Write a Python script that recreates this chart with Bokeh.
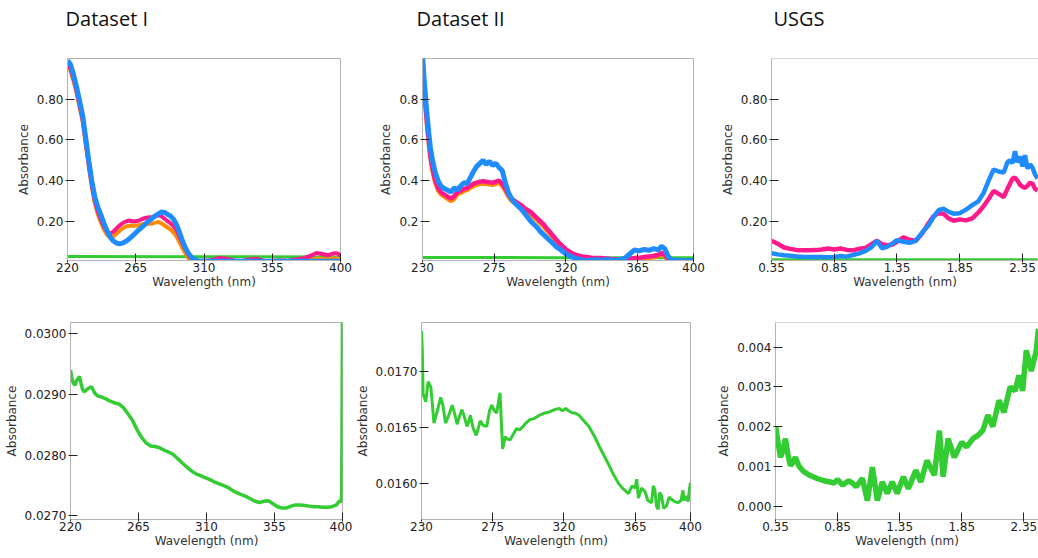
from bokeh.plotting import figure
from bokeh.layouts import column, row
from bokeh.models import Range1d, FixedTicker, Span
from bokeh.embed import file_html
from bokeh.resources import INLINE

# ---------------- data ----------------
titles = ["Dataset I", "Dataset II", "USGS"]
x_label = "Wavelength (nm)"
y_label = "Absorbance"

# Dataset I (top)
d1_wl = [220, 222, 224, 226, 228, 230, 232, 234, 236, 238,
         240, 242, 244, 246, 248, 250, 252, 254, 256, 258,
         260, 262, 264, 266, 268, 270, 272, 274, 276, 278,
         280, 282, 284, 286, 288, 290, 292, 294, 296, 298,
         300, 302, 304, 306,
         310, 315, 320, 325, 330, 335, 340, 345, 350, 355, 360, 365, 370, 375, 380,
         384, 388, 392, 396, 398, 400]
d1_blue = [0.99, 0.97, 0.92, 0.86, 0.79, 0.72, 0.61, 0.50, 0.40, 0.32,
           0.27, 0.232, 0.19, 0.155, 0.125, 0.105, 0.095, 0.09, 0.092, 0.10,
           0.11, 0.123, 0.137, 0.152, 0.165, 0.178, 0.192, 0.205, 0.217, 0.228,
           0.238, 0.246, 0.244, 0.235, 0.226, 0.21, 0.182, 0.142, 0.10, 0.066,
           0.04, 0.022, 0.012, 0.007,
           0.005, 0.004, 0.004, 0.004, 0.004, 0.004, 0.004, 0.004, 0.004, 0.004, 0.004, 0.004, 0.004, 0.004, 0.004,
           0.004, 0.004, 0.004, 0.004, 0.004, 0.004]
d1_pink = [0.97, 0.95, 0.90, 0.84, 0.77, 0.70, 0.59, 0.48, 0.38, 0.30,
           0.25, 0.21, 0.175, 0.15, 0.14, 0.148, 0.163, 0.178, 0.19, 0.198,
           0.204, 0.202, 0.20, 0.202, 0.208, 0.214, 0.218, 0.22, 0.221, 0.226,
           0.23, 0.225, 0.213, 0.201, 0.19, 0.176, 0.155, 0.122, 0.09, 0.06,
           0.032, 0.014, 0.007, 0.005,
           0.005, 0.01, 0.02, 0.017, 0.008, 0.006, 0.014, 0.016, 0.006, 0.005, 0.009, 0.007, 0.013, 0.018, 0.03,
           0.045, 0.04, 0.034, 0.044, 0.043, 0.032]
d1_orange = [0.96, 0.94, 0.89, 0.83, 0.76, 0.69, 0.58, 0.47, 0.37, 0.29,
             0.235, 0.195, 0.16, 0.135, 0.122, 0.125, 0.138, 0.152, 0.164, 0.173,
             0.178, 0.18, 0.178, 0.18, 0.184, 0.187, 0.188, 0.189, 0.19, 0.194,
             0.197, 0.19, 0.18, 0.17, 0.16, 0.145, 0.125, 0.095, 0.066, 0.04,
             0.016, 0.005, 0.003, 0.003,
             0.003, 0.004, 0.006, 0.005, 0.003, 0.003, 0.005, 0.006, 0.003, 0.003, 0.004, 0.004, 0.006, 0.008, 0.012,
             0.017, 0.016, 0.014, 0.018, 0.017, 0.014]
d1_green_wl = [220, 310, 400]
d1_green = [0.028, 0.027, 0.025]

# Dataset II (top)
d2_wl = [230, 231, 232, 233, 234, 235, 236,
         238, 240, 242, 244, 246, 248, 250, 252, 254, 256,
         258, 260, 262, 264, 266, 268, 270, 272, 274, 276,
         278, 280, 282, 284, 286, 288, 290, 292, 294, 296,
         298, 300, 302, 304, 306, 308, 310, 312, 314, 316,
         318, 320, 322, 324, 326, 328, 330,
         333, 336, 339, 342, 345, 348, 351, 354, 357, 360, 363, 366, 369, 372, 375, 378,
         380, 382, 384, 386, 388,
         391, 394, 397, 400]
d2_blue = [1.02, 0.90, 0.80, 0.71, 0.63, 0.56, 0.51,
           0.44, 0.395, 0.37, 0.36, 0.352, 0.345, 0.365, 0.355, 0.375, 0.39,
           0.385, 0.415, 0.445, 0.47, 0.485, 0.50, 0.48, 0.495, 0.475, 0.485,
           0.465, 0.45, 0.39, 0.34, 0.31, 0.29, 0.275, 0.26, 0.24, 0.22,
           0.20, 0.185, 0.17, 0.15, 0.135, 0.12, 0.105, 0.09, 0.075, 0.065,
           0.052, 0.04, 0.032, 0.025, 0.018, 0.014, 0.01,
           0.008, 0.01, 0.012, 0.009, 0.012, 0.01, 0.008, 0.012, 0.02, 0.04, 0.06, 0.055, 0.062, 0.058, 0.066, 0.06,
           0.078, 0.065, 0.03, 0.012, 0.008,
           0.01, 0.006, 0.008, 0.006]
d2_pink = [0.96, 0.86, 0.76, 0.67, 0.59, 0.52, 0.47,
           0.40, 0.36, 0.34, 0.33, 0.32, 0.312, 0.325, 0.345, 0.35, 0.36,
           0.365, 0.375, 0.385, 0.39, 0.395, 0.397, 0.395, 0.392, 0.39, 0.395,
           0.40, 0.385, 0.36, 0.33, 0.31, 0.30, 0.29, 0.28, 0.265, 0.255,
           0.245, 0.23, 0.215, 0.20, 0.185, 0.165, 0.148, 0.128, 0.11, 0.092,
           0.077, 0.063, 0.052, 0.043, 0.037, 0.032, 0.028,
           0.025, 0.022, 0.02, 0.02, 0.018, 0.015, 0.014, 0.012, 0.012, 0.015, 0.02, 0.022, 0.025, 0.028, 0.03, 0.036,
           0.045, 0.036, 0.014, 0.006, 0.005,
           0.005, 0.005, 0.005, 0.005]
d2_orange = [0.95, 0.85, 0.75, 0.66, 0.58, 0.51, 0.46,
             0.39, 0.35, 0.33, 0.32, 0.31, 0.30, 0.312, 0.335, 0.34, 0.35,
             0.355, 0.365, 0.375, 0.38, 0.385, 0.386, 0.385, 0.382, 0.38, 0.385,
             0.39, 0.375, 0.35, 0.32, 0.30, 0.29, 0.28, 0.27, 0.255, 0.245,
             0.235, 0.22, 0.205, 0.19, 0.175, 0.155, 0.138, 0.12, 0.102, 0.085,
             0.07, 0.057, 0.046, 0.038, 0.032, 0.027, 0.024,
             0.021, 0.018, 0.016, 0.015, 0.013, 0.011, 0.01, 0.009, 0.009, 0.011, 0.015, 0.017, 0.02, 0.022, 0.024, 0.03,
             0.038, 0.03, 0.01, 0.004, 0.003,
             0.003, 0.003, 0.003, 0.003]
d2_green_wl = [230, 315, 400]
d2_green = [0.023, 0.022, 0.022]

# USGS (top)
u_wl = [0.35, 0.40, 0.45, 0.50, 0.55, 0.60, 0.65, 0.70, 0.75, 0.80, 0.85, 0.90, 0.95, 1.00, 1.05, 1.10, 1.15,
        1.19, 1.23, 1.27, 1.31,
        1.35, 1.40, 1.45, 1.50, 1.55, 1.60,
        1.64, 1.68, 1.72, 1.76, 1.80,
        1.85, 1.90, 1.95, 2.00,
        2.04, 2.08, 2.12, 2.16, 2.20,
        2.23, 2.25, 2.27, 2.29, 2.31, 2.33, 2.35, 2.37, 2.39, 2.41, 2.43, 2.45, 2.47]
u_blue = [0.044, 0.038, 0.034, 0.031, 0.028, 0.026, 0.025, 0.025, 0.025, 0.024, 0.025, 0.03, 0.027, 0.035, 0.043, 0.055, 0.075,
          0.105, 0.068, 0.075, 0.09,
          0.108, 0.10, 0.095, 0.105, 0.145, 0.18,
          0.22, 0.255, 0.262, 0.248, 0.238,
          0.24, 0.258, 0.28, 0.30,
          0.34, 0.40, 0.455, 0.445, 0.44,
          0.49, 0.50, 0.485, 0.545, 0.49, 0.52, 0.47, 0.525, 0.46, 0.48, 0.465, 0.43, 0.41]
u_pink = [0.105, 0.09, 0.072, 0.065, 0.06, 0.058, 0.058, 0.059, 0.062, 0.067, 0.062, 0.067, 0.06, 0.058, 0.066, 0.07, 0.09,
          0.105, 0.088, 0.083, 0.085,
          0.10, 0.122, 0.11, 0.105, 0.14, 0.19,
          0.225, 0.24, 0.238, 0.215, 0.203,
          0.21, 0.205, 0.215, 0.245,
          0.275, 0.31, 0.35, 0.335, 0.32,
          0.36, 0.385, 0.41, 0.415, 0.40, 0.38, 0.37, 0.365, 0.375, 0.39, 0.385, 0.36, 0.35]
u_green_wl = [0.35, 1.40, 2.47]
u_green = [0.012, 0.012, 0.012]

# Dataset I (bottom, green only)
b1_wl = [220, 221, 222, 223, 224, 225, 226, 227, 228, 229, 230, 232, 234, 236, 238, 240,
         243, 246, 249, 252, 255, 258, 261, 264, 267, 270, 273, 276, 279, 282, 285, 288,
         291, 294, 297, 300, 303, 306, 309, 312, 315, 318, 321, 324, 327, 330, 333, 336,
         339, 342, 345, 348, 351, 354, 357, 360, 363, 366, 369, 372, 375, 378, 381, 384,
         387, 390, 393, 396, 398, 399, 399.5, 400]
b1_green = [0.02940, 0.02925, 0.02918, 0.02915, 0.02922, 0.02926, 0.02929, 0.02918, 0.02908, 0.02904,
            0.02906, 0.02910, 0.02912, 0.02902, 0.02897, 0.02896,
            0.02893, 0.02889, 0.02886, 0.02884, 0.02878, 0.02868, 0.02857, 0.02842, 0.02829, 0.02820,
            0.02815, 0.02814, 0.02812, 0.02808, 0.02805, 0.02801,
            0.02794, 0.02787, 0.02780, 0.02774, 0.02769, 0.02766, 0.02763, 0.02760, 0.02756, 0.02753,
            0.02750, 0.02747, 0.02742, 0.02738, 0.02735, 0.02732,
            0.02728, 0.02724, 0.02722, 0.02724, 0.02725, 0.02720, 0.02715, 0.02713, 0.02713, 0.02716,
            0.02718, 0.02718, 0.02717, 0.02716, 0.02715, 0.02715,
            0.02714, 0.02714, 0.02715, 0.02718, 0.02725, 0.02722, 0.02740, 0.03030]

# Dataset II (bottom, green only)
b2_wl = [230, 230.5, 231, 232.7, 234.2, 235.9, 237.9, 240, 242.1, 243.5, 245.2, 247.5, 249.4, 251,
         252.5, 254, 255.6, 257, 258.75, 260, 260.9, 262.5, 264.6, 266, 267.1, 269, 271.25, 273,
         274.4, 276, 277.5, 279.6, 281.25, 283, 283.75, 285.9, 288, 290, 292, 294.2, 296, 298.4,
         301, 304.6, 308, 310.9, 314, 317.1, 319, 321.25, 323, 325.4, 327, 329.6, 332, 335.8,
         339, 342.1, 345, 348.3, 351, 354.6, 357, 360.8, 363, 365, 366, 367.1, 369, 371.25, 373,
         375.4, 376.5, 377.5, 378.5, 379.6, 380.5, 381.7, 383, 384.8, 386.5, 387.9, 390, 392.1,
         394, 395.2, 396, 397.3, 398.5, 399.3, 400]
b2_green = [0.01736, 0.0172, 0.0168, 0.01673, 0.01691, 0.01686, 0.01654, 0.01665, 0.01677, 0.0167,
            0.01654, 0.01662, 0.0167, 0.01662,
            0.01653, 0.0166, 0.01666, 0.0166, 0.01651, 0.01656, 0.01661, 0.0165, 0.01643, 0.0165,
            0.01656, 0.01652, 0.01651, 0.01665,
            0.0167, 0.01665, 0.01663, 0.01681, 0.01631, 0.01642, 0.0164, 0.01639, 0.01644, 0.01649,
            0.01648, 0.01651, 0.01654, 0.01657,
            0.01658, 0.01661, 0.01663, 0.01664, 0.01666, 0.01667, 0.01665, 0.01667, 0.01665, 0.01663,
            0.01663, 0.01661, 0.01657, 0.01651,
            0.01643, 0.01634, 0.01626, 0.01617, 0.01609, 0.016, 0.01596, 0.01591, 0.01598, 0.01596,
            0.01604, 0.01587, 0.01596, 0.01593, 0.01585,
            0.01583, 0.01598, 0.01594, 0.0158, 0.01577, 0.01592, 0.01589, 0.01578, 0.0158, 0.01588,
            0.01586, 0.01584, 0.01583,
            0.01585, 0.01594, 0.01585, 0.01589, 0.01584, 0.01595, 0.01601]

# USGS (bottom, green only)
b3_wl = [0.352, 0.37, 0.39, 0.41, 0.43, 0.45, 0.47, 0.49, 0.51, 0.54, 0.58, 0.63, 0.69, 0.74, 0.79,
         0.82, 0.85, 0.89, 0.94, 0.97, 1.00, 1.05, 1.09, 1.13, 1.17, 1.21, 1.25, 1.29, 1.33, 1.38,
         1.42, 1.48, 1.52, 1.57, 1.63, 1.67, 1.70, 1.74, 1.79, 1.85, 1.89, 1.94, 1.98, 2.02, 2.06,
         2.10, 2.15, 2.19, 2.24, 2.28, 2.31, 2.34, 2.37, 2.41, 2.45, 2.468]
b3_green = [0.00199, 0.0016, 0.00123, 0.0014, 0.0017, 0.0013, 0.00102, 0.0011, 0.00123, 0.001,
            0.00086, 0.00077, 0.00069, 0.00064, 0.00061,
            0.00058, 0.00067, 0.00053, 0.00064, 0.00058, 0.00049, 0.0007, 0.00014, 0.00098, 0.00014,
            0.00061, 0.00032, 0.00061, 0.00032, 0.00074,
            0.00044, 0.0009, 0.00061, 0.00115, 0.00078, 0.0019, 0.00074, 0.0017, 0.00123, 0.00161,
            0.00149, 0.0017, 0.00178, 0.00191, 0.00229,
            0.002, 0.00266, 0.00236, 0.003, 0.0029, 0.00329, 0.0029, 0.00392, 0.0034, 0.00391, 0.00446]

# ticks
x1_ticks = [220, 265, 310, 355, 400]
x1_labels = ["220", "265", "310", "355", "400"]
x2_ticks = [230, 275, 320, 365, 400]
x2_labels = ["230", "275", "320", "365", "400"]
x3_ticks = [0.35, 0.85, 1.35, 1.85, 2.35]
x3_labels = ["0.35", "0.85", "1.35", "1.85", "2.35"]
yt_ticks = [0.2, 0.4, 0.6, 0.8]
yt_labels_2d = ["0.20", "0.40", "0.60", "0.80"]
yt_labels_1d = ["0.2", "0.4", "0.6", "0.8"]
yb1_ticks = [0.027, 0.028, 0.029, 0.030]
yb1_labels = ["0.0270", "0.0280", "0.0290", "0.0300"]
yb2_ticks = [0.016, 0.0165, 0.017]
yb2_labels = ["0.0160", "0.0165", "0.0170"]
yb3_ticks = [0.0, 0.001, 0.002, 0.003, 0.004]
yb3_labels = ["0.000", "0.001", "0.002", "0.003", "0.004"]

C_BLUE = "#1e8cff"
C_PINK = "#ff1a8c"
C_ORANGE = "#ff8c00"
C_GREEN = "#33cc33"
FRAME = "#b3b3b3"


def make(width, height, left, right, top, bottom, xr, yr, xt, xl, yt, yl,
         title=None, t_off=0, outline=True, xlab_standoff=0):
    p = figure(width=width, height=height, x_range=Range1d(*xr), y_range=Range1d(*yr),
               output_backend="svg", toolbar_location=None,
               min_border_left=left, min_border_right=right,
               min_border_top=top, min_border_bottom=bottom,
               title=(title + "\n") if title is not None else None)
    p.grid.visible = False
    p.background_fill_color = "white"
    p.border_fill_color = "white"
    if outline:
        p.outline_line_color = FRAME
        p.outline_line_alpha = 1.0
    else:
        p.outline_line_color = None
        p.add_layout(Span(location=yr[1], dimension="width", line_color=FRAME, line_width=1))
    if title is not None:
        p.title.text_font = "Open Sans"
        p.title.text_font_size = "20px"
        p.title.text_font_style = "normal"
        p.title.text_color = "#111111"
        p.title.align = "left"
        p.title.offset = t_off
        p.title.standoff = 0
        p.title.text_line_height = 1.0
    for ax, ticks, labels in [(p.xaxis[0], xt, xl), (p.yaxis[0], yt, yl)]:
        ax.ticker = FixedTicker(ticks=ticks)
        ax.major_label_overrides = dict(zip(ticks, labels))
        ax.axis_line_color = FRAME
        ax.major_tick_line_color = "#222222"
        ax.minor_tick_line_color = None
        ax.major_tick_in = 7
        ax.major_tick_out = 2
        ax.major_label_text_font = "DejaVu Sans"
        ax.major_label_text_font_size = "12px"
        ax.major_label_text_color = "#222222"
        ax.axis_label_text_font = "DejaVu Sans"
        ax.axis_label_text_font_size = "12px"
        ax.axis_label_text_font_style = "normal"
        ax.axis_label_text_color = "#333333"
    p.xaxis.axis_label = x_label
    p.yaxis.axis_label = y_label
    p.xaxis.major_label_standoff = 0
    p.xaxis.axis_label_standoff = xlab_standoff
    p.yaxis.major_label_standoff = 2
    p.yaxis.axis_label_standoff = 3
    return p


ytop = (0.008, 1.0)

# top row: height 292, frames from y=58 to y=260
p1 = make(360, 292, 67, 20, 58, 32, (220, 400), ytop, x1_ticks, x1_labels, yt_ticks, yt_labels_2d,
          title=titles[0], t_off=-2)
p1.line(d1_green_wl, d1_green, color=C_GREEN, line_width=3)
p1.line(d1_wl, d1_orange, color=C_ORANGE, line_width=4)
p1.line(d1_wl, d1_pink, color=C_PINK, line_width=4)
p1.line(d1_wl, d1_blue, color=C_BLUE, line_width=5)

p2 = make(353, 292, 62, 20, 58, 32, (230, 400), ytop, x2_ticks, x2_labels, yt_ticks, yt_labels_1d,
          title=titles[1], t_off=-6)
p2.line(d2_green_wl, d2_green, color=C_GREEN, line_width=3)
p2.line(d2_wl, d2_orange, color=C_ORANGE, line_width=4.5)
p2.line(d2_wl, d2_pink, color=C_PINK, line_width=4.5)
p2.line(d2_wl, d2_blue, color=C_BLUE, line_width=5)

p3 = make(325, 292, 58, 0, 58, 32, (0.35, 2.4775), ytop, x3_ticks, x3_labels, yt_ticks, yt_labels_2d,
          title=titles[2], t_off=2, outline=False)
p3.line(u_green_wl, u_green, color=C_GREEN, line_width=3)
p3.line(u_wl, u_pink, color=C_PINK, line_width=4.5)
p3.line(u_wl, u_blue, color=C_BLUE, line_width=4.5)

# bottom row: starts at y=292, height 266
q1 = make(352, 266, 70, 10, 30, 37, (220, 400), (0.02694, 0.03018), x1_ticks, x1_labels,
          yb1_ticks, yb1_labels)
q1.line(b1_wl, b1_green, color=C_GREEN, line_width=3.5)

q2 = make(353, 266, 65, 15, 27, 33, (230, 400), (0.01568, 0.017437), x2_ticks, x2_labels,
          yb2_ticks, yb2_labels)
q2.line(b2_wl, b2_green, color=C_GREEN, line_width=3)

q3 = make(333, 266, 70, 0, 30, 39, (0.35, 2.468), (-0.000335, 0.00462), x3_ticks, x3_labels,
          yb3_ticks, yb3_labels, outline=False)
q3.line(b3_wl, b3_green, color=C_GREEN, line_width=5.5)

layout = column(row(p1, p2, p3), row(q1, q2, q3))

open("out.html", "w").write(file_html(layout, INLINE))
